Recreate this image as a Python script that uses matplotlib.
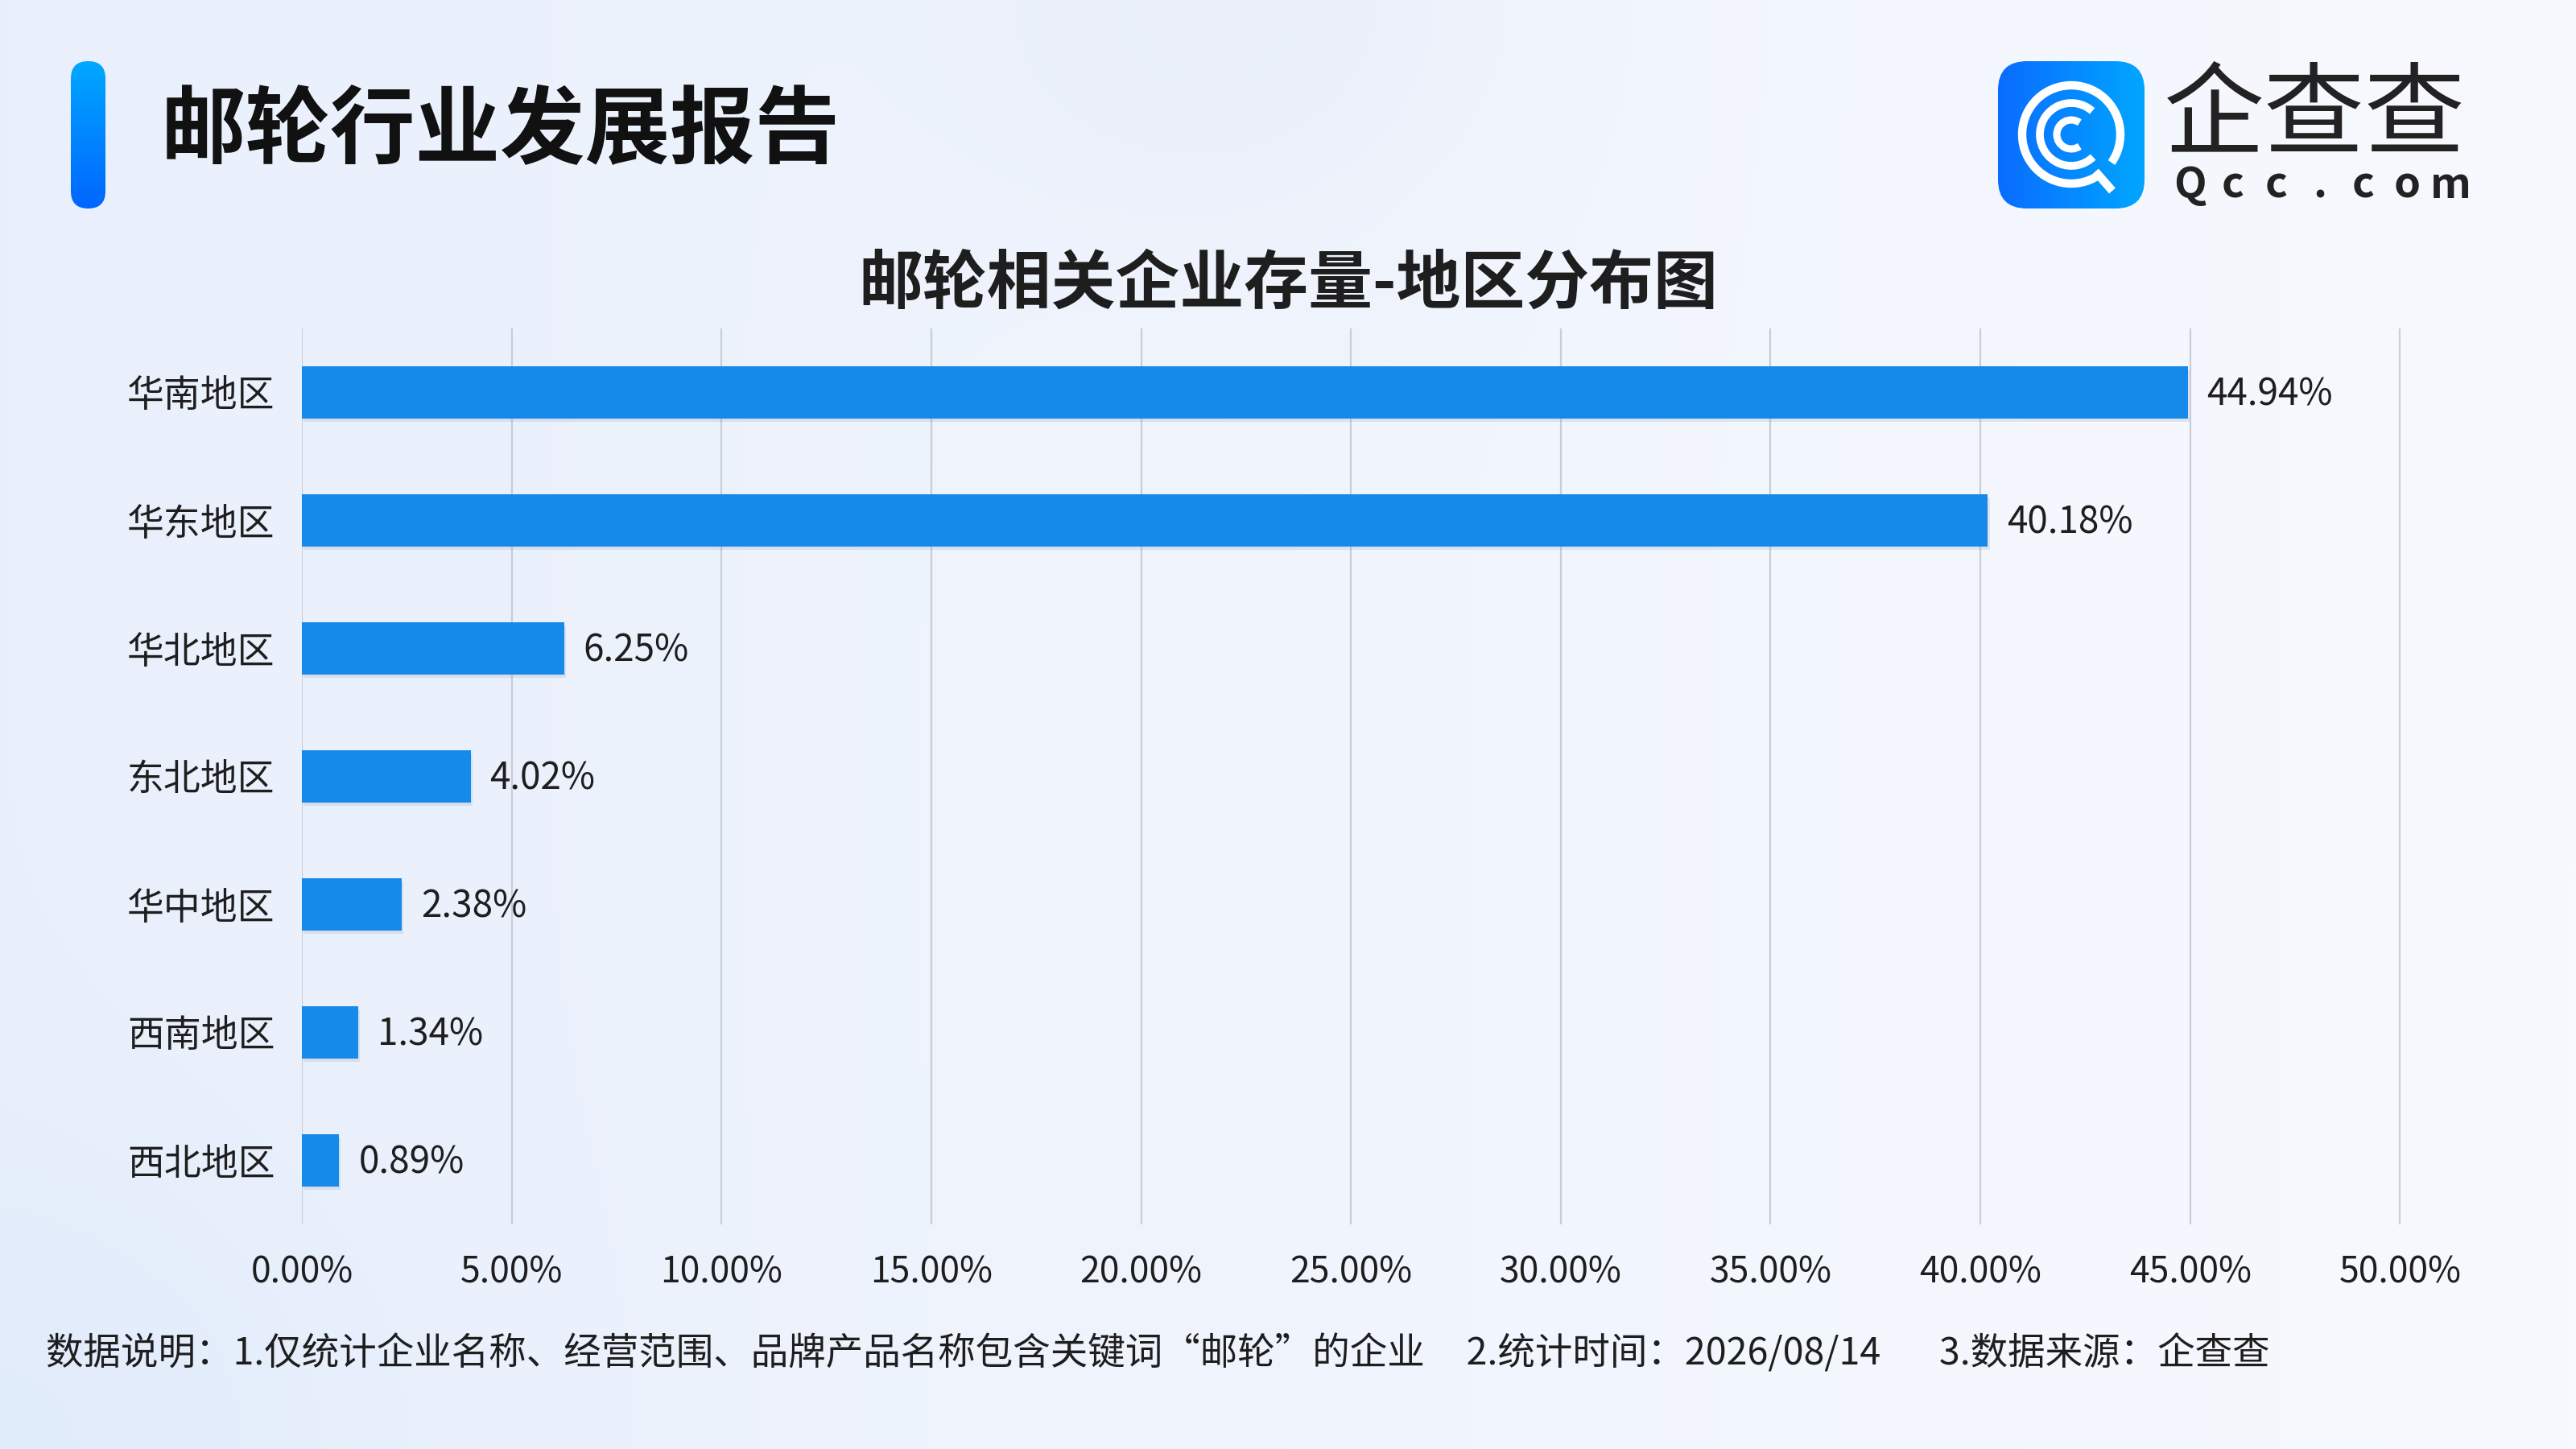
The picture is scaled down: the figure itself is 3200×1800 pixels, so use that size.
# %%

######################
## Import libraries ##
######################

import numpy as np
import matplotlib
matplotlib.use('Agg')
import matplotlib.pyplot as plt
import matplotlib.patheffects as pe
from matplotlib.patches import FancyBboxPatch, Arc

plt.rcParams['font.family'] = ['Noto Sans CJK SC', 'DejaVu Sans']

# %%

##########
## Data ##
##########

regions = ['华南地区', '华东地区', '华北地区', '东北地区', '华中地区', '西南地区', '西北地区']
shares = [44.94, 40.18, 6.25, 4.02, 2.38, 1.34, 0.89]
x_ticks = [0, 5, 10, 15, 20, 25, 30, 35, 40, 45, 50]

header_title = '邮轮行业发展报告'
chart_title = '邮轮相关企业存量-地区分布图'
footnote = ('数据说明：1.仅统计企业名称、经营范围、品牌产品名称包含关键词“邮轮”的企业'
            '     2.统计时间：2026/08/14       3.数据来源：企查查')

bar_color = '#168AEA'
text_color = '#1E1E1E'
grid_color = '#C9CDD4'

W, H = 3200, 1800

# %%

################
## Background ##
################

fig = plt.figure(figsize=(32, 18), dpi=100)

bg_ax = fig.add_axes([0, 0, 1, 1], zorder=-10)
yy, xx = np.mgrid[0:1:180j, 0:1:320j]
left_c = np.array([233, 240, 252]) / 255
right_c = np.array([247, 249, 254]) / 255
img = left_c * (1 - xx[..., None]) + right_c * xx[..., None]
blob = np.exp(-((xx - 0.48) ** 2 / 0.012 + (yy - 0.0) ** 2 / 0.03))[..., None]
img = img * (1 - 0.45 * blob) + np.array([228, 234, 247]) / 255 * 0.45 * blob
blob2 = np.exp(-((xx - 0.0) ** 2 / 0.02 + (yy - 1.0) ** 2 / 0.04))[..., None]
img = img * (1 - 0.5 * blob2) + np.array([218, 232, 251]) / 255 * 0.5 * blob2
bg_ax.imshow(img, extent=(0, 1, 0, 1), aspect='auto', origin='upper')
bg_ax.axis('off')


def pixel_axes(x0, y0, w, h):
    # axes placed in figure pixels, data units = pixels
    a = fig.add_axes([x0 / W, 1 - (y0 + h) / H, w / W, h / H])
    a.set_xlim(0, w)
    a.set_ylim(0, h)
    a.axis('off')
    return a


# %%

############
## Header ##
############

# blue pill next to the title
pill_ax = pixel_axes(88, 76, 43, 183)
grad = np.linspace(0, 1, 100)[:, None]
top_c = np.array([0, 168, 255]) / 255
bot_c = np.array([0, 102, 255]) / 255
pill_img = top_c * (1 - grad[..., None]) + bot_c * grad[..., None]
pill_img = np.repeat(pill_img, 2, axis=1)
im = pill_ax.imshow(pill_img, extent=(0, 43, 0, 183), aspect='auto', origin='upper')
pill = FancyBboxPatch((0, 0), 43, 183, boxstyle='round,pad=0,rounding_size=21.5',
                      transform=pill_ax.transData, facecolor='none', edgecolor='none')
pill_ax.add_patch(pill)
im.set_clip_path(pill)

fig.text(200 / W, 1 - 164 / H, header_title, fontsize=76, fontweight='heavy',
         color='#111111', va='center', ha='left')

# logo
logo_ax = pixel_axes(2482, 76, 182, 183)
lgrad = np.linspace(0, 1, 100)[None, :]
logo_img = np.array([10, 108, 255]) / 255 * (1 - lgrad[..., None]) + \
    np.array([0, 166, 255]) / 255 * lgrad[..., None]
logo_img = np.repeat(logo_img, 2, axis=0)
lim = logo_ax.imshow(logo_img, extent=(0, 182, 0, 183), aspect='auto')
box = FancyBboxPatch((0, 0), 182, 183, boxstyle='round,pad=0,rounding_size=36',
                     transform=logo_ax.transData, facecolor='none', edgecolor='none')
logo_ax.add_patch(box)
lim.set_clip_path(box)
cx, cy = 91, 92
logo_ax.add_patch(Arc((cx, cy), 122, 122, theta1=-35, theta2=302, color='white', lw=7.5))
logo_ax.add_patch(Arc((cx, cy), 78, 78, theta1=48, theta2=314, color='white', lw=7))
logo_ax.add_patch(Arc((cx, cy), 36, 36, theta1=55, theta2=305, color='white', lw=6.5))
logo_ax.plot([cx + 30, cx + 51], [cy - 46, cy - 70], color='white', lw=7.5,
             solid_capstyle='butt')

fig.text(2688 / W, 1 - 146 / H, '企查查', fontsize=90, color='#222222',
         va='center', ha='left')
for k, ch in enumerate('Qcc.com'):
    fig.text((2720 + k * 54) / W, 1 - 230 / H, ch, fontsize=38, fontweight='bold',
             color='#222222', va='center', ha='center')

# %%

###############
## Bar chart ##
###############

fig.text(0.5, 1 - 353 / H, chart_title, fontsize=57.5, fontweight='bold',
         color=text_color, ha='center', va='center')

ax = fig.add_axes([375 / W, 1 - 1521 / H, (2984 - 375) / W, (1521 - 408) / H])
ax.patch.set_alpha(0)

y = np.arange(len(regions))
bars = ax.barh(y, shares, height=0.41, color=bar_color, zorder=3)
for b in bars:
    b.set_path_effects([pe.SimplePatchShadow(offset=(1.5, -3), shadow_rgbFace='#7E8DB0',
                                             alpha=0.18), pe.Normal()])

for i, v in enumerate(shares):
    ax.text(v + 0.46, i + 0.02, f'{v:.2f}%', va='center', ha='left', fontsize=33,
            color=text_color, zorder=4)

ax.set_xlim(0, 50.05)
ax.set_ylim(len(regions) - 0.5, -0.5)
ax.set_xticks(x_ticks)
ax.set_xticklabels([f'{t:.2f}%' for t in x_ticks], fontsize=32, color=text_color)
ax.set_yticks(y)
ax.set_yticklabels(regions, fontsize=33, color=text_color)
ax.tick_params(axis='x', length=0, pad=26)
ax.tick_params(axis='y', length=0, pad=24)
ax.grid(axis='x', color=grid_color, lw=1.6, zorder=0)
for s in ax.spines.values():
    s.set_visible(False)

# %%

##############
## Footnote ##
##############

fig.text(57 / W, 1 - 1682 / H, footnote, fontsize=33.5, color=text_color,
         va='center', ha='left')

fig.savefig('out.png', dpi=100)
